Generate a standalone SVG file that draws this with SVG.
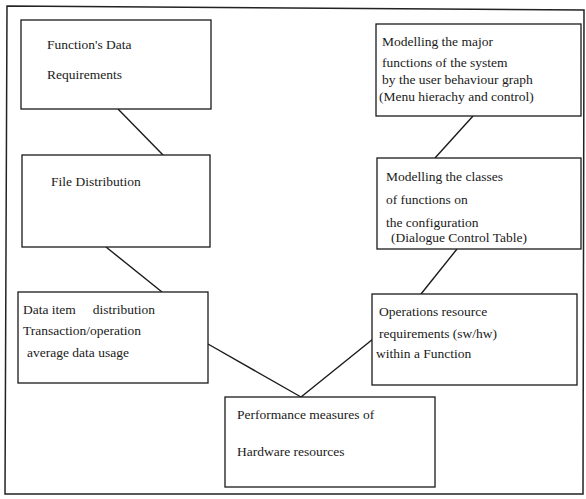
<svg xmlns="http://www.w3.org/2000/svg" width="586" height="499" viewBox="0 0 586 499">
  <style>
    .box { fill: #ffffff; stroke: #1a1a1a; stroke-width: 1.3; }
    .frame { fill: none; stroke: #222222; stroke-width: 1.5; }
    .link { stroke: #1a1a1a; stroke-width: 1.4; fill: none; }
    text { font-family: "Liberation Serif", "Times New Roman", serif; font-size: 13.5px; fill: #1a1a1a; }
  </style>
  <rect width="586" height="499" fill="#ffffff"/>
  <!-- outer frame -->
  <path class="frame" d="M7,6 L584,10 L583,494 L5,494 Z"/>

  <g id="connectors">
    <line class="link" x1="118" y1="109" x2="163" y2="155"/>
    <line class="link" x1="106" y1="247" x2="162" y2="292"/>
    <line class="link" x1="208" y1="344" x2="301" y2="397"/>
    <line class="link" x1="301" y1="397" x2="373" y2="339"/>
    <line class="link" x1="421" y1="294" x2="457" y2="249"/>
    <line class="link" x1="435" y1="158" x2="473" y2="116"/>
  </g>

  <g id="function-data">
    <rect class="box" x="21" y="20" width="190" height="89"/>
    <text x="47" y="49">Function's Data</text>
    <text x="47" y="79">Requirements</text>
  </g>

  <g id="file-distribution">
    <rect class="box" x="22" y="155" width="188" height="92"/>
    <text x="51" y="186">File Distribution</text>
  </g>

  <g id="data-item">
    <rect class="box" x="18" y="292" width="190" height="91"/>
    <text x="23" y="314" xml:space="preserve">Data item     distribution</text>
    <text x="23" y="335">Transaction/operation</text>
    <text x="27" y="357">average data usage</text>
  </g>

  <g id="performance">
    <rect class="box" x="225" y="397" width="210" height="90"/>
    <text x="237" y="419">Performance measures of</text>
    <text x="237" y="456">Hardware resources</text>
  </g>

  <g id="operations">
    <rect class="box" x="372" y="294" width="205" height="91"/>
    <text x="379" y="316">Operations resource</text>
    <text x="379" y="338">requirements (sw/hw)</text>
    <text x="376" y="358">within a Function</text>
  </g>

  <g id="dialogue">
    <rect class="box" x="377" y="158" width="204" height="91"/>
    <text x="386" y="181">Modelling the classes</text>
    <text x="386" y="204">of functions on</text>
    <text x="386" y="227">the configuration</text>
    <text x="391" y="242">(Dialogue Control Table)</text>
  </g>

  <g id="major-functions">
    <rect class="box" x="376" y="24" width="205" height="92"/>
    <text x="382" y="46">Modelling the major</text>
    <text x="382" y="67">functions of the system</text>
    <text x="382" y="84">by the user behaviour graph</text>
    <text x="379" y="101">(Menu hierachy and control)</text>
  </g>
</svg>
